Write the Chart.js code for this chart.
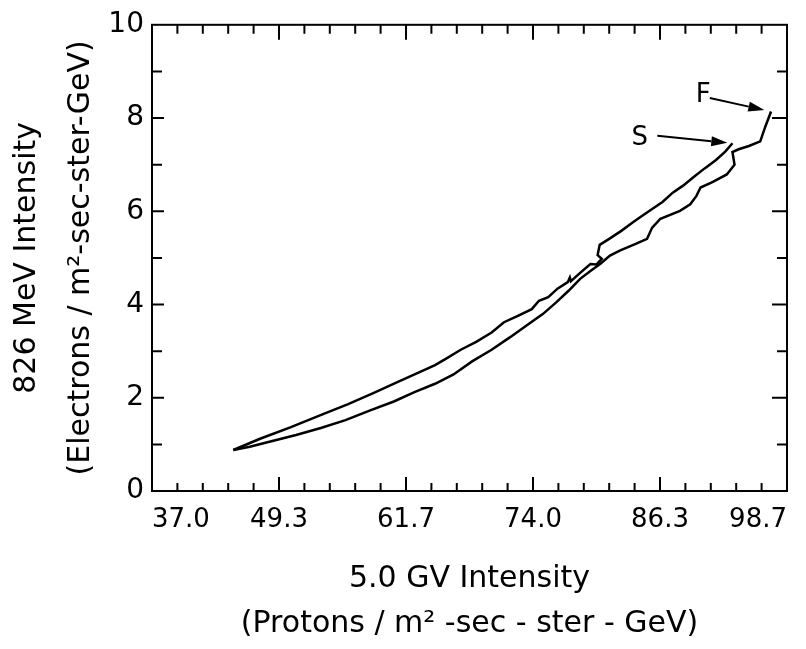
<!DOCTYPE html>
<html><head><meta charset="utf-8">
<script src="https://cdn.jsdelivr.net/npm/chart.js@4/dist/chart.umd.min.js"></script>
<style>html,body{margin:0;padding:0;background:#fff}#wrap{width:806px;height:649px}</style>
</head><body><div id="wrap"><canvas id="c" width="806" height="649"></canvas></div>
<script>
// ---- data ----
const xTickLabels = ["37.0", "49.3", "61.7", "74.0", "86.3", "98.7"];
const yTickLabels = ["0", "2", "4", "6", "8", "10"];

// upper branch (tip -> S)
const upperX = [44.9, 47.5, 50.5, 53.5, 56.0, 58.5, 61.0, 63.0, 64.5, 65.5, 67.0, 68.5, 70.0, 71.2, 72.5, 73.9, 74.6, 75.5, 76.4, 77.4, 77.6, 77.7, 78.6, 79.6, 80.2, 80.7, 80.3, 80.5, 81.5, 82.6, 83.7, 84.6, 85.6, 86.6, 87.6, 88.6, 89.6, 90.7, 91.8, 92.7, 93.4];
const upperY = [0.88, 1.12, 1.37, 1.64, 1.86, 2.10, 2.35, 2.55, 2.70, 2.83, 3.03, 3.20, 3.40, 3.62, 3.75, 3.90, 4.08, 4.16, 4.34, 4.48, 4.58, 4.50, 4.68, 4.87, 4.86, 4.98, 5.06, 5.28, 5.42, 5.58, 5.76, 5.90, 6.05, 6.20, 6.40, 6.55, 6.73, 6.92, 7.10, 7.28, 7.46];

// lower branch (tip -> F)
const lowerX = [44.9, 46.5, 48.5, 51.0, 53.4, 55.8, 58.2, 60.5, 62.5, 64.5, 66.3, 68.1, 70.0, 71.8, 73.7, 75.0, 76.3, 77.5, 78.6, 79.6, 80.6, 81.5, 82.5, 84.0, 85.1, 85.6, 86.4, 88.3, 89.3, 89.9, 90.3, 91.5, 92.85, 93.6, 93.4, 94.0, 95.0, 96.1, 96.6, 97.15];
const lowerY = [0.88, 0.95, 1.06, 1.20, 1.35, 1.52, 1.73, 1.92, 2.12, 2.30, 2.50, 2.78, 3.03, 3.30, 3.60, 3.80, 4.05, 4.30, 4.55, 4.72, 4.88, 5.05, 5.16, 5.30, 5.41, 5.65, 5.84, 6.01, 6.15, 6.33, 6.51, 6.63, 6.79, 7.00, 7.27, 7.33, 7.40, 7.50, 7.82, 8.14];

const markerLabels = ["S", "F"];
// ---------------------------------------

const toPoints = (xs, ys) => xs.map((v, i) => ({ x: v, y: ys[i] }));
const FONT = "'DejaVu Sans', sans-serif";

// label/arrow placement (data units) for the S and F markers
const markerPlacement = [
  { label: [84.4, 7.57], from: [86.1, 7.62], to: [92.9, 7.47] },
  { label: [90.55, 8.49], from: [91.2, 8.43], to: [96.5, 8.17] }
];

const frameTicks = {
  id: 'frameTicks',
  afterDatasetsDraw(chart) {
    const { ctx, chartArea: a, scales: { x, y } } = chart;
    ctx.save();
    ctx.strokeStyle = '#000';
    ctx.lineWidth = 2;
    ctx.strokeRect(a.left, a.top, a.right - a.left, a.bottom - a.top);
    ctx.beginPath();
    const nx = x.ticks.length;
    x.ticks.forEach((t, i) => {
      if (i === 0 || i === nx - 1) return;
      const px = x.getPixelForValue(t.value);
      const major = i % 5 === 0;
      ctx.moveTo(px, a.bottom); ctx.lineTo(px, a.bottom - (major ? 14 : 8));
      ctx.moveTo(px, a.top); ctx.lineTo(px, a.top + (major ? 15 : 9));
    });
    y.ticks.forEach((t, i) => {
      if (t.value <= y.min || t.value >= y.max) return;
      const py = y.getPixelForValue(t.value);
      const major = Math.round(t.value) % 2 === 0;
      ctx.moveTo(a.left, py); ctx.lineTo(a.left + (major ? 12 : 10), py);
      ctx.moveTo(a.right, py); ctx.lineTo(a.right - (major ? 15 : 10), py);
    });
    ctx.stroke();

    // S / F markers with arrows
    ctx.fillStyle = '#000';
    ctx.font = "26px " + FONT;
    ctx.textAlign = 'center';
    ctx.textBaseline = 'middle';
    markerPlacement.forEach((m, i) => {
      ctx.fillText(markerLabels[i], x.getPixelForValue(m.label[0]), y.getPixelForValue(m.label[1]));
      const x0 = x.getPixelForValue(m.from[0]), y0 = y.getPixelForValue(m.from[1]);
      const x1 = x.getPixelForValue(m.to[0]), y1 = y.getPixelForValue(m.to[1]);
      const ang = Math.atan2(y1 - y0, x1 - x0);
      const hl = 16, hw = 5;
      const bx = x1 - hl * Math.cos(ang), by = y1 - hl * Math.sin(ang);
      ctx.lineWidth = 2;
      ctx.beginPath(); ctx.moveTo(x0, y0); ctx.lineTo(bx, by); ctx.stroke();
      ctx.beginPath();
      ctx.moveTo(x1, y1);
      ctx.lineTo(bx + hw * Math.sin(ang), by - hw * Math.cos(ang));
      ctx.lineTo(bx - hw * Math.sin(ang), by + hw * Math.cos(ang));
      ctx.closePath(); ctx.fill();
    });
    ctx.restore();
  }
};

const lineStyle = { showLine: true, borderColor: '#000', backgroundColor: '#000', borderWidth: 2.5, pointRadius: 0, tension: 0, fill: false };

new Chart(document.getElementById('c'), {
  type: 'scatter',
  data: {
    datasets: [
      Object.assign({ label: 'upper', data: toPoints(upperX, upperY) }, lineStyle),
      Object.assign({ label: 'lower', data: toPoints(lowerX, lowerY) }, lineStyle)
    ]
  },
  options: {
    responsive: false,
    animation: false,
    devicePixelRatio: 1,
    layout: { padding: { top: 21, right: 19, left: 0, bottom: 0 } },
    plugins: { legend: { display: false }, tooltip: { enabled: false } },
    scales: {
      x: {
        type: 'linear', min: 37, max: 98.7,
        afterBuildTicks: s => { s.ticks = Array.from({ length: 26 }, (_, i) => ({ value: 37 + i * 61.7 / 25 })); },
        afterFit: s => { s.height = 158; },
        grid: { display: false, drawTicks: false },
        border: { display: false },
        ticks: {
          autoSkip: false, maxRotation: 0, minRotation: 0, align: 'inner', padding: 14,
          color: '#000', font: { family: FONT, size: 26 },
          callback: (v, i) => (i % 5 === 0 ? xTickLabels[i / 5] : '')
        },
        title: {
          display: true, color: '#000',
          text: ["5.0 GV Intensity", "(Protons / m² -sec - ster - GeV)"],
          font: { family: FONT, size: 30, lineHeight: '45px' },
          padding: { top: 0, bottom: 2 }
        }
      },
      y: {
        type: 'linear', min: 0, max: 10,
        afterFit: s => { s.width = 152; },
        grid: { display: false, drawTicks: false },
        border: { display: false },
        ticks: {
          stepSize: 1, autoSkip: false, padding: 8,
          color: '#000', font: { family: FONT, size: 28 },
          callback: v => (v % 2 === 0 ? yTickLabels[v / 2] : '')
        },
        title: {
          display: true, color: '#000',
          text: ["826 MeV Intensity", "(Electrons / m²-sec-ster-GeV)"],
          font: { family: FONT, size: 30, lineHeight: '54px' },
          padding: { top: 0, bottom: 0 }
        }
      }
    }
  },
  plugins: [frameTicks]
});
</script></body></html>
